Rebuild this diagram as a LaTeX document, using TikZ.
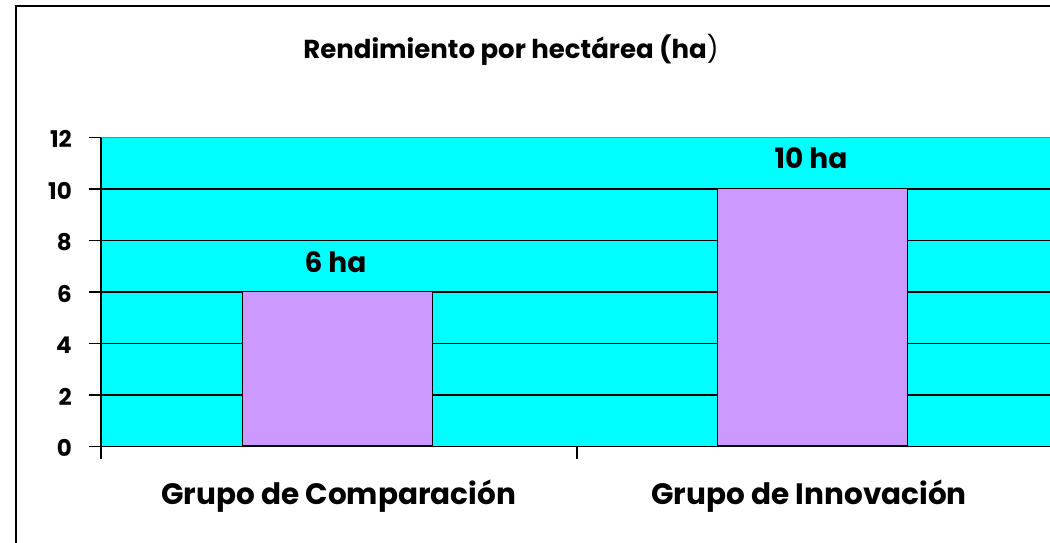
\documentclass[tikz,border=0pt]{standalone}
\usepackage{fontspec}
\setmainfont{Poppins}
\definecolor{plotcyan}{RGB}{0,255,255}
\definecolor{barlilac}{RGB}{204,153,255}
\definecolor{topgray}{RGB}{128,128,128}
\begin{document}
\begin{tikzpicture}[x=1pt,y=-1pt,
  grid/.style={line width=1.5pt,black},
  axisline/.style={line width=1.5pt,black},
  barbox/.style={fill=barlilac,draw=black,line width=1.5pt},
  ticklabel/.style={anchor=base east,inner sep=0pt,font=\fontsize{23}{23}\selectfont\bfseries},
  vallabel/.style={anchor=base,inner sep=0pt,font=\fontsize{28}{28}\selectfont\bfseries},
  catlabel/.style={anchor=base,inner sep=0pt,font=\fontsize{29.5}{29.5}\selectfont\bfseries},
  titlelabel/.style={anchor=base,inner sep=0pt,font=\fontsize{26}{26}\selectfont}]
\useasboundingbox (0,0) rectangle (1050,542);
\clip (0,0) rectangle (1050,542);
% outer frame
\draw[line width=2pt] (16,560) -- (16,6) -- (1070,6);
% plot area
\fill[plotcyan] (101,137.5) rectangle (1053,446.5);
\draw[topgray,line width=1.5pt] (101,137.5) -- (1053,137.5);
\foreach \v in {2,4,6,8,10} {
  \draw[grid] (101,{446.5-25.75*\v}) -- (1053,{446.5-25.75*\v});
}
% bars
\node[barbox,inner sep=0pt,minimum width=190pt,minimum height=154.5pt,anchor=south] (bar1) at (337.5,446.5) {};
\node[barbox,inner sep=0pt,minimum width=190pt,minimum height=257.5pt,anchor=south] (bar2) at (812.5,446.5) {};
% axes
\draw[axisline] (101,137.5) -- (101,459);
\draw[axisline] (89,446.5) -- (1053,446.5);
\foreach \v in {0,2,4,6,8,10,12} {
  \draw[axisline] (89,{446.5-25.75*\v}) -- (101,{446.5-25.75*\v});
}
\draw[axisline] (577,446.5) -- (577,459);
\draw[axisline] (1053,446.5) -- (1053,459);
% tick labels
\foreach \v in {0,2,4,6,8,10,12} {
  \node[ticklabel] (t\v) at (72,{446.5-25.75*\v+10}) {\v};
}
% value labels
\node[vallabel] (v1) at (335.5,272.5) {6 ha};
\node[vallabel] (v2) at (811,168) {10 ha};
% category labels
\node[catlabel] (c1) at (338.5,504) {Grupo de Comparación};
\node[catlabel] (c2) at (809,504) {Grupo de Innovación};
% title
\node[titlelabel] (title) at (511,58) {{\bfseries Rendimiento por hectárea (ha})};
\end{tikzpicture}
\end{document}
